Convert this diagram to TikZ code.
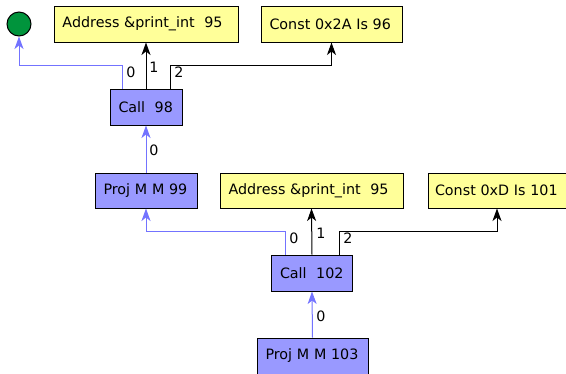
\documentclass[tikz,border=0pt]{standalone}
\usepackage{fontspec}
\setmainfont{DejaVu Sans}
\usetikzlibrary{arrows.meta}
\definecolor{bfill}{RGB}{153,153,255}
\definecolor{yfill}{RGB}{255,255,153}
\definecolor{gfill}{RGB}{0,148,60}
\definecolor{bline}{RGB}{115,115,255}
\tikzset{
  txt/.style={font=\fontsize{14.3}{16}\selectfont},
  box/.style={draw=black, line width=1pt, rectangle, inner xsep=8.5pt, inner ysep=0pt, minimum height=36pt, align=left, txt},
  bbox/.style={box, fill=bfill},
  ybox/.style={box, fill=yfill},
  bedge/.style={draw=bline, line width=1pt, -{Stealth[length=12.5pt,width=9pt,inset=3.5pt]}},
  kedge/.style={draw=black, line width=1pt, -{Stealth[length=12.5pt,width=9pt,inset=3.5pt]}},
  elab/.style={txt, inner sep=0pt}
}
\begin{document}
\begin{tikzpicture}[x=1pt,y=-1pt]
\clip (0,0) rectangle (566,373);
\useasboundingbox (0,0) rectangle (566,373);
\node[circle, draw=black, line width=1pt, fill=gfill, minimum size=24pt, inner sep=0pt] (circ) at (19,24) {};
\node[ybox, text width=167pt] (addr1) at (146,24) {Address \&print\_int\ \ 95};
\node[ybox, text width=124pt] (const1) at (331.5,24) {Const 0x2A Is 96};
\node[bbox, text width=55pt] (call98) at (146,107) {Call\ \ 98};
\node[bbox, text width=85pt, minimum height=35pt] (proj99) at (146,190.5) {Proj M M 99};
\node[ybox, text width=166pt, minimum height=35pt] (addr2) at (311.5,190.5) {Address \&print\_int\ \ 95};
\node[ybox, text width=124pt, inner xsep=7pt, minimum height=35pt] (const2) at (497,190.5) {Const 0xD Is 101};
\node[bbox, text width=64pt] (call102) at (312,273) {Call\ \ 102};
\node[bbox, text width=94pt] (proj103) at (312.5,356) {Proj M M 103};
% Call 98 edges
\draw[bedge] ([xshift=13]call98.north west) -- ++(0,-23) -| (circ.south);
\draw[kedge] (call98.north) -- (addr1.south);
\draw[kedge] ([xshift=24]call98.north) -- ++(0,-23) -| (const1.south);
\node[elab] (l98a) at (131,72) {0};
\node[elab] (l98b) at (154,67) {1};
\node[elab] (l98c) at (179,72) {2};
% Proj 99 -> Call 98
\draw[bedge] (proj99.north) -- (call98.south);
\node[elab] (l99) at (154,150) {0};
% Call 102 edges
\draw[bedge] ([xshift=14]call102.north west) -- ++(0,-23) -| (proj99.south);
\draw[kedge] (call102.north) -- (addr2.south);
\draw[kedge] ([xshift=27]call102.north) -- ++(0,-23) -| (const2.south);
\node[elab] (l102a) at (294,238) {0};
\node[elab] (l102b) at (321,233) {1};
\node[elab] (l102c) at (348,238) {2};
% Proj 103 -> Call 102
\draw[bedge] (proj103.north) -- (call102.south);
\node[elab] (l103) at (321,316) {0};
\end{tikzpicture}
\end{document}
